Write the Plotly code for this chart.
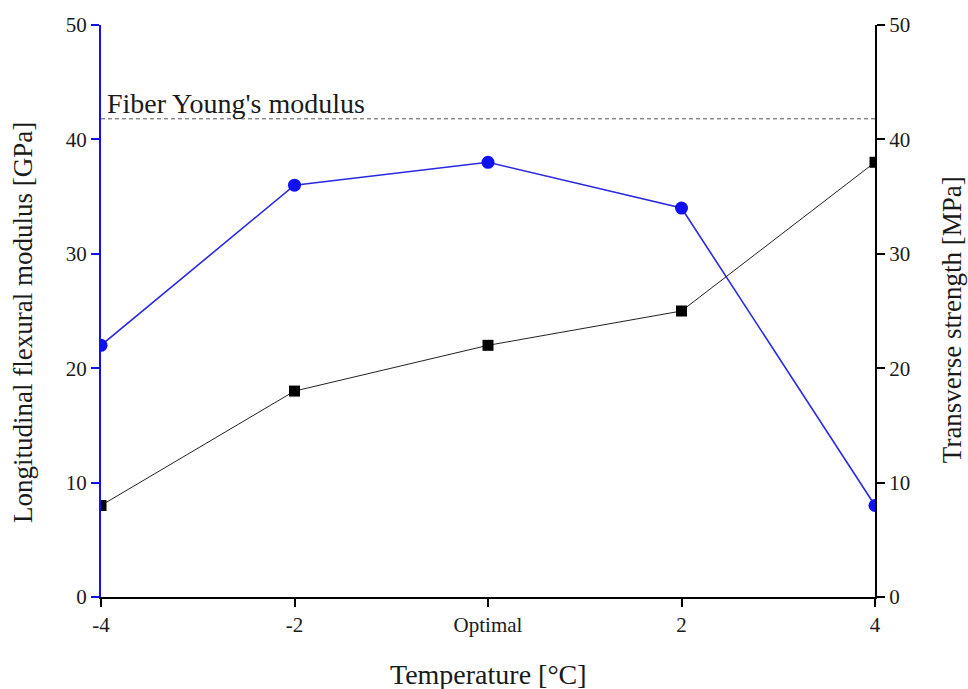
import plotly.graph_objects as go

categories = ["-4", "-2", "Optimal", "2", "4"]
x_pos = [-4, -2, 0, 2, 4]
modulus_gpa = [22, 36, 38, 34, 8]
strength_mpa = [8, 18, 22, 25, 38]
fiber_modulus = 41.8
y_ticks = [0, 10, 20, 30, 40, 50]

FONT = "Liberation Serif"
BLUE = "#1010f0"
TXT = "#1a1a1a"

fig = go.Figure()
fig.add_trace(go.Scatter(x=x_pos, y=modulus_gpa, mode="lines+markers",
                         line=dict(color="#2a2ae0", width=1.6),
                         marker=dict(symbol="circle", size=13, color=BLUE),
                         showlegend=False))
fig.add_trace(go.Scatter(x=x_pos, y=strength_mpa, mode="lines+markers", yaxis="y2",
                         line=dict(color="#222222", width=1),
                         marker=dict(symbol="square", size=11, color="black"),
                         showlegend=False))

fig.add_shape(type="line", xref="paper", yref="y", x0=0, x1=1,
              y0=fiber_modulus, y1=fiber_modulus,
              line=dict(color="#555555", width=1, dash="4px,3px"))
fig.add_annotation(xref="paper", yref="y", x=0.005, y=fiber_modulus, text="Fiber Young's modulus",
                   showarrow=False, xanchor="left", yanchor="bottom",
                   font=dict(family=FONT, size=28, color=TXT), yshift=-2)

# axis titles as annotations for exact placement
fig.add_annotation(xref="paper", yref="paper", x=0, y=0.479, xshift=-78,
                   text="Longitudinal flexural modulus [GPa]", textangle=-90, showarrow=False,
                   xanchor="center", yanchor="middle", font=dict(family=FONT, size=27, color=TXT))
fig.add_annotation(xref="paper", yref="paper", x=1, y=0.484, xshift=77,
                   text="Transverse strength [MPa]", textangle=-90, showarrow=False,
                   xanchor="center", yanchor="middle", font=dict(family=FONT, size=27, color=TXT))
fig.add_annotation(xref="paper", yref="paper", x=0.5, y=0, yshift=-77,
                   text="Temperature [°C]", showarrow=False,
                   xanchor="center", yanchor="middle", font=dict(family=FONT, size=28, color=TXT))

axis_common = dict(showgrid=False, zeroline=False, showline=True, linewidth=2,
                   ticks="outside", ticklen=8, tickwidth=2, automargin=False,
                   tickfont=dict(family=FONT, size=21, color=TXT))

fig.update_layout(
    width=968, height=689,
    margin=dict(l=101, r=93, t=25, b=92),
    paper_bgcolor="white", plot_bgcolor="white",
    font=dict(family=FONT, color=TXT),
    xaxis=dict(range=[-4, 4], tickvals=x_pos, ticktext=categories,
               linecolor="black", tickcolor="black", **axis_common),
    yaxis=dict(range=[0, 50], tickvals=y_ticks,
               linecolor=BLUE, tickcolor=BLUE, **axis_common),
    yaxis2=dict(range=[0, 50], tickvals=y_ticks, overlaying="y", side="right",
                linecolor="black", tickcolor="black", **axis_common),
)

fig.write_html("out.html", config={"displayModeBar": False},
               post_script="document.body.style.margin='0px';document.body.style.overflow='hidden';")
